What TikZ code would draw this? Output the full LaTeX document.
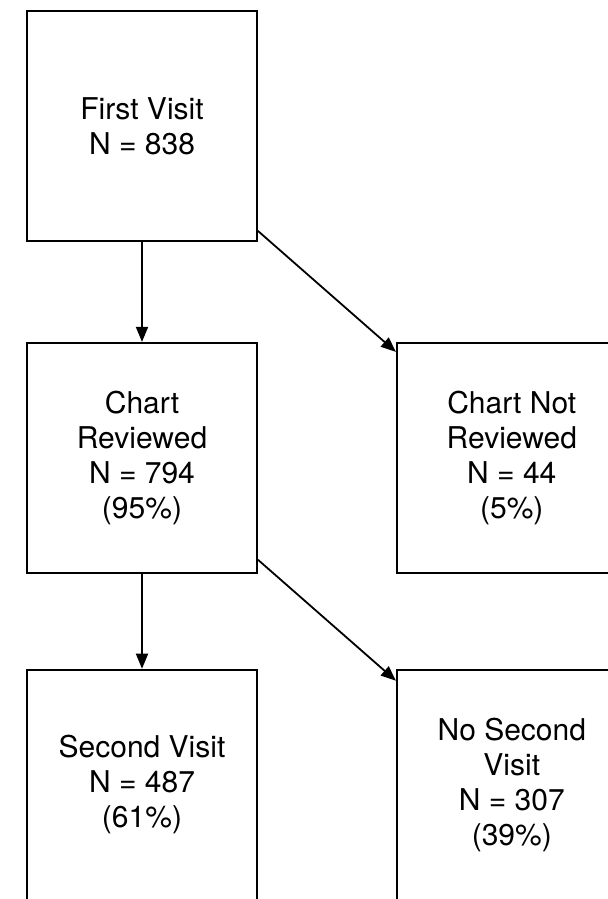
\documentclass[tikz,border=0pt]{standalone}
\usepackage{fontspec}
\setmainfont{TeX Gyre Heros}
\usetikzlibrary{arrows.meta, positioning}

\begin{document}
\begin{tikzpicture}[-{Triangle[length=7.5pt,width=6pt]},auto,node distance=50pt and 69pt,
		line width=0.9pt,flow box/.style={draw,rectangle,minimum width=115pt,minimum height=115pt,
		inner sep=0pt,align=center,font=\fontsize{15}{17.5}\selectfont}]
		\useasboundingbox (0,0) rectangle (304pt,-449.5pt);
		\clip (0,0) rectangle (304pt,-449.5pt);

		%% Nodes
		\begin{scope}
			\node (first) at (71pt,-63pt) [flow box] {First Visit\\N = 838};
			\node (reviewed) [flow box, below = 50pt of first] {Chart\\Reviewed\\N = 794\\(95\%)};
			\node (notreviewed) [flow box, right = 69pt of reviewed] {Chart Not\\Reviewed\\N = 44\\(5\%)};
			\node (second) [flow box, below = 47.5pt of reviewed] {Second Visit\\N = 487\\(61\%)};
			\node (nosecond) [flow box, right = 69pt of second] {No Second\\Visit\\N = 307\\(39\%)};
		\end{scope}

		%% Edges
		\draw (first) -- (reviewed);
		\draw ([yshift=5.5pt]first.south east) -- ([yshift=-5pt]notreviewed.north west);
		\draw (reviewed) -- (second);
		\draw ([yshift=7pt]reviewed.south east) -- ([yshift=-6pt]nosecond.north west);
	\end{tikzpicture}
\end{document}
